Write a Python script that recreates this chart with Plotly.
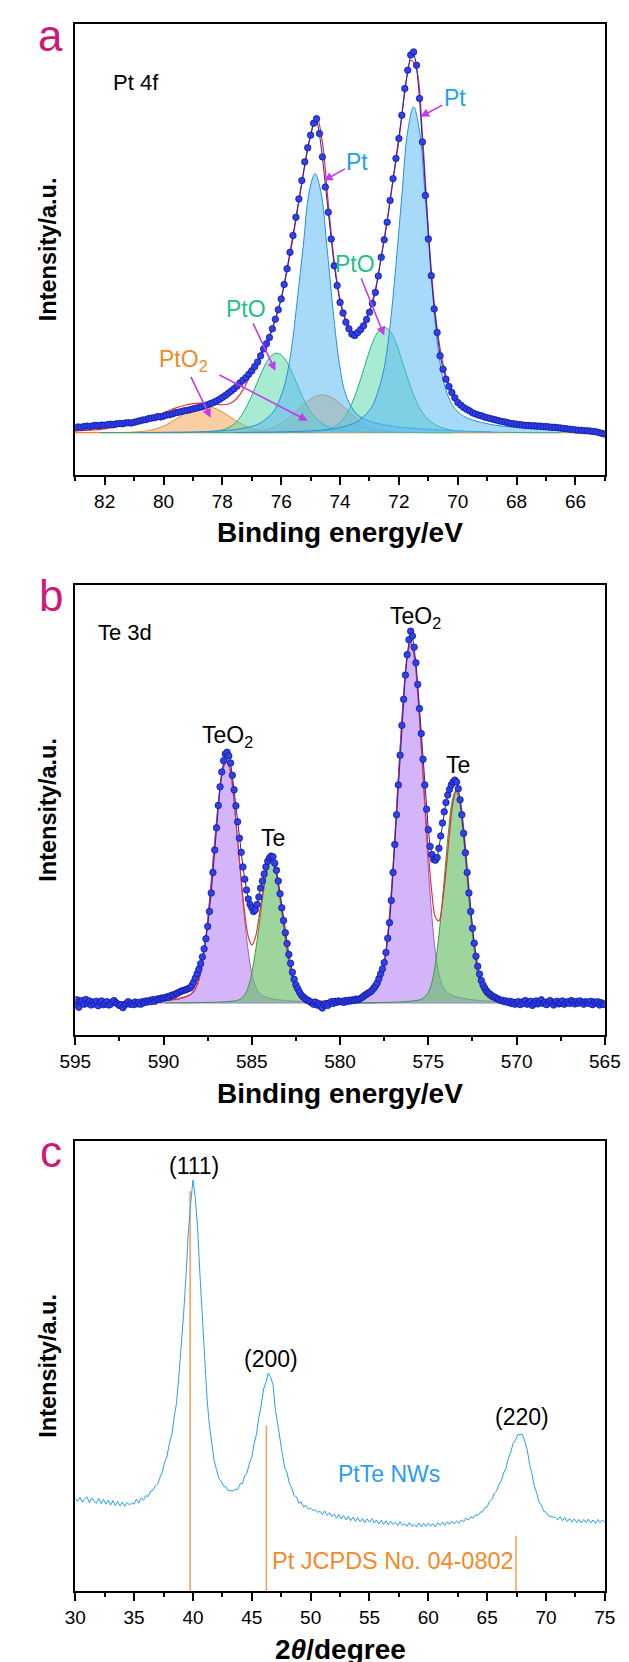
import plotly.graph_objects as go

W, H = 629, 1662
FONT = "Liberation Sans, Arial, Helvetica, sans-serif"

# ---------------- Panel a : Pt 4f ----------------
A_X0, A_STEP = 83.0, -0.1
A_DATA = [
    1.3, 1.5, 1.4, 1.6, 1.7, 1.6, 1.8, 1.9, 1.8, 2.0,
    1.9, 2.1, 2.2, 2.1, 2.3, 2.4, 2.3, 2.5, 2.6, 2.5,
    2.7, 2.9, 3.1, 3.3, 3.4, 3.7, 3.8, 3.9, 4.2, 4.1,
    4.3, 4.6, 4.7, 4.9, 5.2, 5.3, 5.5, 5.7, 5.8, 6.0,
    6.2, 6.4, 6.6, 6.8, 7.0, 7.3, 7.6, 7.9, 8.3, 8.7,
    9.2, 9.7, 10.3, 10.9, 11.5, 12.2, 13.0, 13.7, 14.4, 15.3,
    16.2, 17.3, 18.5, 20.1, 21.9, 23.3, 24.9, 27.2, 29.7, 32.2,
    35.0, 38.8, 42.9, 47.2, 51.6, 56.4, 61.2, 66.0, 70.9, 74.6,
    77.9, 81.0, 82.2, 78.3, 72.2, 64.3, 57.7, 50.7, 43.7, 38.5,
    34.1, 31.3, 28.9, 27.2, 25.8, 25.4, 26.2, 27.0, 28.0, 29.6,
    31.5, 33.8, 36.7, 41.0, 45.9, 50.5, 55.1, 60.8, 66.5, 71.8,
    77.0, 83.1, 90.1, 94.9, 98.9, 99.7, 96.2, 87.5, 76.1, 62.1,
    50.7, 41.1, 32.4, 26.2, 20.1, 16.6, 14.0, 12.1, 10.5, 9.1,
    7.9, 7.2, 6.6, 6.1, 5.7, 5.2, 4.9, 4.6, 4.4, 4.1,
    3.9, 3.7, 3.5, 3.3, 3.1, 2.9, 2.8, 2.6, 2.4, 2.3,
    2.2, 2.1, 2.0, 1.9, 1.9, 1.8, 1.8, 1.7, 1.7, 1.6,
    1.6, 1.5, 1.4, 1.4, 1.3, 1.2, 1.1, 1.0, 0.9, 0.8,
    0.7, 0.6, 0.6, 0.5, 0.5, 0.4, 0.3, 0.2, 0.0, -0.2,
    -0.4,
]
A_ENV_X0, A_ENV_STEP = 83.0, -0.2
A_ENV = [
    0.4, 0.5, 0.6, 0.7, 0.8,
    1.0, 1.2, 1.5, 1.8, 2.2,
    2.6, 3.0, 3.5, 4.0, 4.6,
    5.2, 5.8, 6.4, 6.9, 7.3,
    7.6, 7.7, 7.7, 7.6, 7.4,
    7.3, 7.5, 8.3, 10.0, 12.6,
    15.8, 19.0, 22.0, 25.3, 29.5,
    35.0, 42.5, 51.0, 60.5, 70.0,
    78.0, 83.0, 76.0, 60.0, 45.0,
    35.0, 29.5, 26.5, 26.5, 28.5,
    32.0, 37.5, 46.0, 55.5, 66.0,
    76.5, 89.0, 97.5, 95.0, 78.0,
    53.0, 34.0, 22.0, 15.0, 11.0,
    8.3, 6.6, 5.4, 4.6, 4.0,
    3.5, 3.1, 2.8, 2.5, 2.3,
    2.1, 1.9, 1.8, 1.6, 1.5,
    1.3, 1.2, 1.1, 1.0, 0.9,
    0.8, 0.7, 0.6, 0.5, 0.4,
    0.3,
]
# fitted components: values at (centre + offset)
OFF = [-6, -5, -4, -3.4, -2.8, -2.4, -2.0, -1.8, -1.6, -1.4, -1.2, -1.0, -0.8, -0.6, -0.4, -0.2,
       0, 0.2, 0.4, 0.6, 0.8, 1.0, 1.2, 1.4, 1.6, 1.8, 2.0, 2.4, 2.8, 3.4, 4, 5, 6]
A_PT1 = [0.3, 0.5, 1.0, 1.4, 1.9, 2.5, 3.3, 3.9, 4.8, 6.3, 9.0, 14, 24, 41, 61, 79,
         85.3, 79, 62, 44, 28, 17, 11, 7, 5, 3.5, 2.5, 1.5, 0.9, 0.5, 0.3, 0.1, 0]
A_PT2 = [0.2, 0.4, 0.8, 1.1, 1.5, 2.0, 2.6, 3.1, 3.8, 5.0, 7.2, 11, 19.5, 33, 49, 63,
         67.8, 63, 49, 35, 22, 13.5, 8.7, 5.6, 4.0, 2.8, 2.0, 1.2, 0.7, 0.4, 0.2, 0.1, 0]
A_PTO_R = [0, 0, 0.1, 0.2, 0.3, 0.5, 1.2, 1.8, 2.8, 4.2, 6.5, 9.8, 14.2, 19, 23.5, 26.5,
           27.6, 26.5, 23.5, 19, 14, 9.5, 6, 3.5, 2, 1.1, 0.6, 0.2, 0.1, 0, 0, 0, 0]
A_PTO_L = [0, 0, 0.1, 0.15, 0.25, 0.4, 0.9, 1.4, 2.1, 3.2, 4.9, 7.4, 10.7, 14.3, 17.7, 20,
           20.8, 20, 17.7, 14.3, 10.6, 7.2, 4.5, 2.6, 1.5, 0.8, 0.45, 0.15, 0.05, 0, 0, 0, 0]
A_PTO2_R = [0, 0, 0, 0.02, 0.05, 0.2, 0.6, 1.0, 1.6, 2.4, 3.5, 4.8, 6.2, 7.6, 8.8, 9.6,
            9.9, 9.6, 8.8, 7.6, 6.2, 4.8, 3.5, 2.4, 1.6, 1.0, 0.6, 0.2, 0.05, 0.02, 0, 0, 0]
A_PTO2_L = [0, 0, 0, 0, 0.04, 0.15, 0.4, 0.7, 1.1, 1.7, 2.5, 3.4, 4.4, 5.4, 6.2, 6.8,
            7.0, 6.8, 6.2, 5.4, 4.4, 3.4, 2.5, 1.7, 1.1, 0.7, 0.4, 0.15, 0.04, 0, 0, 0, 0]
A_CENTERS = [71.5, 74.85, 72.5, 76.15, 74.6, 78.6]

# ---------------- Panel b : Te 3d ----------------
B_X0, B_STEP = 595.0, -0.1
B_DATA = [
    -0.5, 0.8, -1.2, 0.3, 0.6, -0.4, 0.9, -0.2, 0.5, -0.6,
    0.2, -0.3, 0.4, -0.8, 0.1, 0.5, -0.5, -0.2, 0.3, -0.6,
    -0.4, 0.2, 0.6, 0.0, -0.3, -0.7, -0.5, -1.3, -0.6, -0.2,
    0.3, -0.4, -0.1, -0.5, 0.2, -0.3, 0.1, -0.4, 0.3, 0.0,
    0.5, 0.2, 0.6, 0.3, 0.9, 0.4, 0.8, 1.1, 0.9, 1.3,
    1.2, 1.4, 1.6, 1.5, 1.9, 2.1, 2.0, 2.4, 2.6, 2.9,
    3.1, 3.3, 3.4, 3.6, 3.8, 4.0, 4.6, 5.5, 6.6, 7.8,
    9.0, 10.5, 12.3, 14.5, 17.2, 20.5, 24.5, 29.5, 35, 41,
    47, 53, 58, 62, 65, 66.8, 67.3, 66.3, 64.4, 61.1,
    57.2, 52.9, 48.6, 44.2, 40.4, 36.5, 33.2, 30.3, 27.9, 26.4,
    25.5, 24.5, 25.0, 26.4, 28.4, 30.8, 32.7, 34.6, 36.5, 38.0,
    38.9, 39.4, 39.2, 37.5, 35.6, 32.7, 29.3, 25.5, 22.1, 18.8,
    15.9, 13.0, 10.6, 8.2, 6.3, 4.8, 3.8, 2.9, 2.1, 1.6,
    1.2, 0.8, 0.6, 0.3, 0.0, -0.4, 0.2, -0.6, -0.3, -0.9,
    -1.4, -0.5, -0.2, -0.7, -0.1, 0.3, -0.2, 0.4, 0.1, 0.5,
    0.3, 0.4, 0.1, 0.6, 0.3, 0.7, 0.5, 0.8, 0.6, 1.0,
    0.8, 1.0, 1.3, 1.6, 2.0, 2.3, 2.6, 2.9, 3.3, 3.9,
    4.5, 5.3, 6.5, 7.8, 9.1, 10.8, 13.5, 17.3, 21.5, 27.5,
    35, 42.5, 50.5, 58.5, 66.5, 74.5, 81.5, 88, 93.5, 97.5,
    99.8, 98.5, 95.5, 91.3, 85.5, 79, 72.3, 65.4, 58.5, 52,
    46.5, 42, 39.8, 38.5, 38.3, 39, 41.5, 44.8, 48.3, 51.3,
    53.8, 55.8, 57.3, 58.5, 59.3, 59.8, 59.3, 57.5, 54.5, 50.5,
    45.5, 40.3, 35, 29.5, 24.5, 20, 16, 12.5, 9.8, 7.7,
    6.0, 4.8, 3.9, 3.2, 2.7, 2.3, 1.9, 1.6, 1.4, 1.1,
    0.9, 0.6, 0.7, 0.3, 0.5, 0.1, 0.4, -0.2, 0.2, -0.4,
    0.1, 0.3, -0.5, 0.2, -0.2, 0.6, -0.4, 0.0, 0.4, -0.7,
    -0.1, 0.5, -0.3, 0.2, 0.8, -0.2, 0.1, -0.5, 0.3, 0.6,
    -0.1, -0.6, 0.2, 0.4, -0.3, 0.0, 0.5, -0.4, 0.1, 0.3,
    -0.2, 0.6, 0.2, -0.3, 0.4, -0.1, 0.5, 0.0, -0.4, 0.3,
    0.1, -0.2, 0.4, -0.5, 0.2, -0.1, 0.3, -0.6, 0.0, -0.3,
    -0.5,
]
B_ENV_X0, B_ENV_STEP = 595.0, -0.2
B_ENV = [
    0.1, 0.1, 0.1, 0.1, 0.1,
    0.1, 0.1, 0.1, 0.15, 0.15,
    0.15, 0.2, 0.2, 0.2, 0.25,
    0.25, 0.3, 0.3, 0.35, 0.4,
    0.4, 0.45, 0.5, 0.55, 0.6,
    0.65, 0.7, 0.8, 0.9, 1.05,
    1.3, 1.6, 2.0, 2.6, 3.8,
    6.2, 10.5, 17.5, 27, 38,
    48.5, 57.5, 63.3, 65.3, 62.4,
    54.2, 43.6, 33, 24, 17.8,
    15.5, 17.5, 22.7, 29, 34.5,
    37.8, 37.9, 34.5, 28.5, 21.5,
    14.6, 9.0, 5.3, 3.0, 1.8,
    1.1, 0.8, 0.65, 0.55, 0.5,
    0.45, 0.45, 0.5, 0.55, 0.6,
    0.7, 0.8, 0.9, 1.0, 1.15,
    1.3, 1.5, 1.8, 2.2, 2.9,
    3.8, 5.4, 8.4, 14, 23.5,
    36.5, 52.3, 68.2, 82.8, 92.9,
    96.8, 93.4, 83.8, 69.6, 54.5,
    40.5, 29.5, 23, 22, 27,
    35.5, 45.5, 53.8, 57.2, 54.5,
    47, 36.3, 25.3, 16.1, 8.9,
    4.8, 2.6, 1.6, 1.0, 0.7,
    0.5, 0.4, 0.35, 0.3, 0.3,
    0.25, 0.25, 0.2, 0.2, 0.2,
    0.15, 0.15, 0.15, 0.15, 0.1,
    0.1, 0.1, 0.1, 0.1, 0.1,
    0.1, 0.1, 0.1, 0.1, 0.1,
    0.1, 0.1, 0.1, 0.1, 0.1,
    0.1,
]
B_TEO2_L = [0, 0.2, 0.4, 0.6, 0.9, 1.3, 2.1, 3.1, 5.2, 9.1, 15.6, 24.4, 35.1, 45.9, 55.8, 62.5,
            65, 62.5, 55.8, 45.9, 35.1, 24.4, 15.6, 9.1, 5.2, 3.1, 2.1, 1.3, 0.9, 0.6, 0.4, 0.2, 0]
B_TE_L = [0, 0, 0.08, 0.11, 0.23, 0.34, 0.57, 0.9, 1.6, 3.0, 5.9, 10.6, 16.7, 23.9, 31, 36.1,
          38, 36.1, 31, 23.9, 16.7, 10.6, 5.9, 3.0, 1.6, 0.9, 0.57, 0.34, 0.23, 0.11, 0.08, 0, 0]
B_TEO2_R = [0, 0.29, 0.58, 0.87, 1.35, 1.9, 3.1, 4.6, 7.7, 13.5, 23.1, 36.1, 52, 68, 82.6, 92.6,
            96.3, 92.6, 82.6, 68, 52, 36.1, 23.1, 13.5, 7.7, 4.6, 3.1, 1.9, 1.35, 0.87, 0.58, 0.29, 0]
B_TE_R = [0, 0, 0.11, 0.17, 0.34, 0.51, 0.86, 1.4, 2.4, 4.6, 8.8, 16, 25.1, 35.9, 46.5, 54.2,
          57, 54.2, 46.5, 35.9, 25.1, 16, 8.8, 4.6, 2.4, 1.4, 0.86, 0.51, 0.34, 0.17, 0.11, 0, 0]
B_CENTERS = [586.45, 583.9, 576.0, 573.45]

# ---------------- Panel c : XRD ----------------
C_X0, C_STEP = 30.0, 0.2
C_DATA = [
    20.6, 19.9, 20.8, 19.7, 20.5, 20.9, 19.6, 20.7, 20.0, 19.5,
    20.6, 19.4, 20.4, 19.3, 20.2, 19.1, 20.1, 19.0, 19.9, 18.9,
    19.8, 18.8, 19.7, 19.1, 19.6, 19.3, 20.4, 19.5, 20.7, 20.2,
    21.2, 21.0, 22.2, 22.4, 23.3, 23.7, 25.3, 26.4, 28.6, 30.0,
    32.8, 34.6, 38.5, 41.7, 47.6, 53.6, 61.3, 69.5, 79.3, 85.9,
    91.3, 87.4, 80.5, 70.1, 60.8, 49.5, 42.6, 36.7, 32.8, 29.0,
    27.0, 25.0, 24.4, 23.3, 23.1, 22.3, 22.3, 22.2, 22.6, 22.6,
    23.8, 23.9, 25.6, 26.3, 28.4, 29.7, 32.7, 34.9, 38.6, 41.3,
    44.9, 46.3, 48.4, 47.5, 45.9, 40.4, 37.2, 33.1, 30.3, 27.5,
    26.2, 23.9, 22.8, 21.2, 20.9, 19.5, 19.8, 18.7, 19.0, 18.2,
    18.4, 17.9, 18.0, 17.5, 17.7, 17.0, 17.8, 16.8, 17.4, 16.5,
    17.1, 16.2, 17.0, 16.0, 16.8, 15.8, 16.6, 15.6, 16.4, 15.5,
    16.3, 15.4, 16.1, 15.2, 16.0, 15.3, 16.1, 15.1, 15.8, 14.9,
    15.7, 14.8, 15.6, 14.7, 15.5, 14.8, 15.3, 14.5, 15.4, 14.6,
    14.9, 14.4, 15.2, 14.4, 14.8, 14.2, 15.1, 14.3, 15.0, 14.4,
    15.1, 14.4, 15.0, 14.3, 15.2, 14.6, 15.3, 14.6, 15.4, 14.8,
    15.5, 14.9, 15.6, 15.0, 15.8, 15.4, 16.2, 15.8, 16.5, 16.2,
    16.9, 16.8, 17.5, 17.6, 18.5, 18.7, 19.9, 20.3, 21.7, 22.2,
    23.7, 24.5, 26.2, 27.3, 29.5, 30.8, 32.8, 33.5, 34.7, 34.8,
    34.8, 33.2, 31.4, 28.2, 26.1, 23.3, 21.9, 19.8, 19.1, 17.7,
    17.5, 16.7, 16.6, 16.4, 16.3, 15.8, 16.5, 15.6, 16.3, 15.4,
    16.1, 15.3, 16.0, 15.2, 15.9, 15.1, 15.9, 15.2, 16.0, 15.1,
    15.8, 15.0, 15.9, 15.2, 15.8, 15.2,
]
STICK_POS = [39.76, 46.24, 67.45]
STICK_H = [88.9, 36.8, 12.3]

assert len(A_DATA) == 181 and len(A_ENV) == 91
assert len(B_DATA) == 301 and len(B_ENV) == 151
assert len(C_DATA) == 226
for arr in (A_PT1, A_PT2, A_PTO_R, A_PTO_L, A_PTO2_R, A_PTO2_L, B_TEO2_L, B_TE_L, B_TEO2_R, B_TE_R):
    assert len(arr) == len(OFF)


def grid(x0, step, n):
    return [round(x0 + i * step, 3) for i in range(n)]


def comp_x(c):
    return [round(c + o, 3) for o in OFF]


fig = go.Figure()

# ---- panel a traces ----
a_comp = [
    (A_PTO2_L, A_CENTERS[5], "rgba(245,165,85,0.55)", "#E8892C"),
    (A_PTO2_R, A_CENTERS[4], "rgba(245,165,85,0.55)", "#E8892C"),
    (A_PTO_L, A_CENTERS[3], "rgba(80,215,165,0.50)", "#1FAE7E"),
    (A_PTO_R, A_CENTERS[2], "rgba(80,215,165,0.50)", "#1FAE7E"),
    (A_PT2, A_CENTERS[1], "rgba(95,185,242,0.55)", "#2A8FD8"),
    (A_PT1, A_CENTERS[0], "rgba(95,185,242,0.55)", "#2A8FD8"),
]
for vals, c, fc, lc in a_comp:
    fig.add_trace(go.Scatter(x=comp_x(c), y=vals, mode="lines", fill="tozeroy", fillcolor=fc,
                             line=dict(color=lc, width=1, shape="spline"), xaxis="x", yaxis="y",
                             hoverinfo="skip"))
fig.add_trace(go.Scatter(x=grid(A_ENV_X0, A_ENV_STEP, len(A_ENV)), y=A_ENV, mode="lines",
                         line=dict(color="#E2332B", width=1.2, shape="spline"), xaxis="x", yaxis="y"))
fig.add_trace(go.Scatter(x=grid(A_X0, A_STEP, len(A_DATA)), y=A_DATA, mode="lines+markers",
                         line=dict(color="#1E22D0", width=1),
                         marker=dict(size=6.5, color="#3040EA", line=dict(color="#0C1290", width=0.7)),
                         xaxis="x", yaxis="y"))

# ---- panel b traces ----
b_comp = [
    (B_TEO2_L, B_CENTERS[0], "rgba(185,135,245,0.62)", "#9A5AE0"),
    (B_TE_L, B_CENTERS[1], "rgba(105,190,105,0.65)", "#3C9A3C"),
    (B_TEO2_R, B_CENTERS[2], "rgba(185,135,245,0.62)", "#9A5AE0"),
    (B_TE_R, B_CENTERS[3], "rgba(105,190,105,0.65)", "#3C9A3C"),
]
for vals, c, fc, lc in b_comp:
    fig.add_trace(go.Scatter(x=comp_x(c), y=vals, mode="lines", fill="tozeroy", fillcolor=fc,
                             line=dict(color=lc, width=1, shape="spline"), xaxis="x2", yaxis="y2",
                             hoverinfo="skip"))
fig.add_trace(go.Scatter(x=grid(B_ENV_X0, B_ENV_STEP, len(B_ENV)), y=B_ENV, mode="lines",
                         line=dict(color="#E2332B", width=1.2, shape="spline"), xaxis="x2", yaxis="y2"))
fig.add_trace(go.Scatter(x=grid(B_X0, B_STEP, len(B_DATA)), y=B_DATA, mode="lines+markers",
                         line=dict(color="#1E22D0", width=1),
                         marker=dict(size=6.5, color="#3040EA", line=dict(color="#0C1290", width=0.7)),
                         xaxis="x2", yaxis="y2"))

# ---- panel c traces ----
sx, sy = [], []
for p, h in zip(STICK_POS, STICK_H):
    sx += [p, p, None]
    sy += [0, h, None]
fig.add_trace(go.Scatter(x=sx, y=sy, mode="lines", line=dict(color="#F4A45E", width=1.6),
                         xaxis="x3", yaxis="y3"))
fig.add_trace(go.Scatter(x=grid(C_X0, C_STEP, len(C_DATA)), y=C_DATA, mode="lines",
                         line=dict(color="#2A9DF0", width=1), xaxis="x3", yaxis="y3"))

XD = [54 / W, 612 / W]


def ydom(top, bot):
    return [1 - bot / H, 1 - top / H]


def xaxis(rng, dtick, minor, anchor):
    return dict(domain=XD, range=rng, anchor=anchor, showline=True, linecolor="black", linewidth=1.5,
                mirror=True, ticks="outside", ticklen=8, tickwidth=1.5, tickcolor="black",
                dtick=dtick, tick0=0, showgrid=False, zeroline=False,
                tickfont=dict(family=FONT, size=19, color="black"),
                minor=dict(dtick=minor, tick0=0, ticks="outside", ticklen=4, tickwidth=1.5,
                           tickcolor="black", showgrid=False))


def yaxis(rng, dom, anchor):
    return dict(domain=dom, range=rng, anchor=anchor, showline=True, linecolor="black", linewidth=1.5,
                mirror=True, ticks="", showticklabels=False, showgrid=False, zeroline=False)


fig.update_layout(
    width=W, height=H, margin=dict(l=0, r=0, t=0, b=0),
    paper_bgcolor="white", plot_bgcolor="white", showlegend=False,
    font=dict(family=FONT, color="black"),
    xaxis=xaxis([83, 65], 2, 1, "y"),
    yaxis=yaxis([-11.1, 107], ydom(16, 467), "x"),
    xaxis2=xaxis([595, 565], 5, 2.5, "y2"),
    yaxis2=yaxis([-8.65, 112.2], ydom(577, 1027), "x2"),
    xaxis3=xaxis([30, 75], 5, 2.5, "y3"),
    yaxis3=yaxis([0, 100], ydom(1133, 1583), "x3"),
)

# baselines
fig.add_shape(type="line", xref="x domain", yref="y", x0=0, x1=1, y0=0, y1=0,
              line=dict(color="#EE9A45", width=1.2), layer="below")
fig.add_shape(type="line", xref="x2 domain", yref="y2", x0=0, x1=1, y0=0, y1=0,
              line=dict(color="#A070E0", width=1.2), layer="below")

ann = []


def txt(x, y, t, size, color, xref, yref, **kw):
    d = dict(x=x, y=y, text=t, xref=xref, yref=yref, showarrow=False,
             font=dict(family=FONT, size=size, color=color), xanchor="center", yanchor="middle")
    d.update(kw)
    ann.append(d)


def arrow(hx, hy, tx, ty, t, color, xr, yr):
    ann.append(dict(x=hx, y=hy, ax=tx, ay=ty, xref=xr, yref=yr, axref=xr, ayref=yr, text=t,
                    showarrow=True, arrowhead=2, arrowsize=1.1, arrowwidth=1.6, arrowcolor="#C23CEB",
                    font=dict(family=FONT, size=23, color=color)))


# panel letters (box top given in px)
LET = "#CE1A78"
for top_px, l in ((1, "a"), (561, "b"), (1117, "c")):
    txt(28 / W, 1 - top_px / H, l, 44, LET, "paper", "paper", yanchor="top")

# axis titles
for ypx in (524, 1085):
    txt(333 / W, 1 - ypx / H, "<b>Binding energy/eV</b>", 28, "black", "paper", "paper")
txt(333 / W, 1 - 1641 / H, "<b>2<i>θ</i>/degree</b>", 28, "black", "paper", "paper")
for top, bot in ((16, 467), (577, 1027), (1133, 1583)):
    txt(25 / W, 1 - (top + bot) / 2 / H, "<b>Intensity/a.u.</b>", 23.5, "black", "paper", "paper",
        textangle=-90)

# panel a labels
txt(80.92, 91.7, "Pt 4f", 22, "black", "x", "y")
arrow(71.27, 82.7, 70.1, 87.5, "Pt", "#1FA0E8", "x", "y")
arrow(74.55, 66.0, 73.41, 70.9, "Pt", "#1FA0E8", "x", "y")
arrow(72.5, 25.4, 73.48, 44.2, "PtO", "#1FBE8A", "x", "y")
arrow(76.2, 16.2, 77.19, 32.4, "PtO", "#1FBE8A", "x", "y")
arrow(78.4, 3.9, 79.33, 18.8, "PtO<sub>2</sub>", "#F08A24", "x", "y")
arrow(75.1, 3.1, 78.15, 15.3, "", "#F08A24", "x", "y")

# panel b labels
txt(592.19, 99.5, "Te 3d", 22, "black", "x2", "y2")
txt(586.37, 71.5, "TeO<sub>2</sub>", 23, "black", "x2", "y2")
txt(583.78, 44.2, "Te", 23, "black", "x2", "y2")
txt(575.75, 103.6, "TeO<sub>2</sub>", 23, "black", "x2", "y2")
txt(573.31, 63.9, "Te", 23, "black", "x2", "y2")

# panel c labels
txt(40.1, 94.4, "(111)", 23, "black", "x3", "y3")
txt(46.6, 51.6, "(200)", 23, "black", "x3", "y3")
txt(68.0, 38.7, "(220)", 23, "black", "x3", "y3")
txt(56.7, 25.9, "PtTe NWs", 23, "#2A9DF0", "x3", "y3")
txt(56.97, 6.6, "Pt JCPDS No. 04-0802", 23.5, "#F08A2A", "x3", "y3")

fig.update_layout(annotations=ann)
fig.write_html("out.html")
